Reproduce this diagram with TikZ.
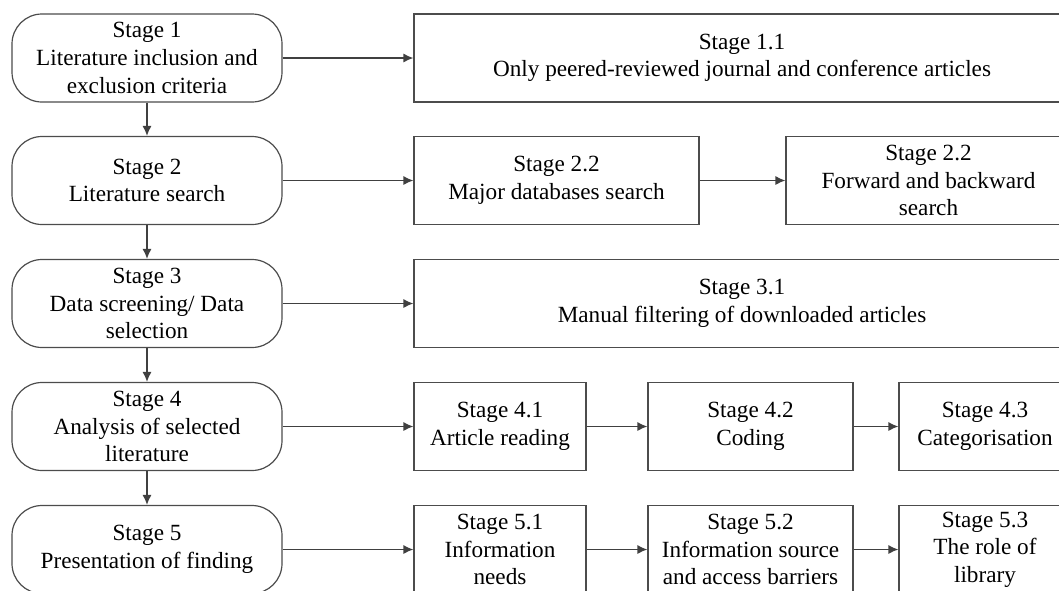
\documentclass[tikz,border=0pt]{standalone}
\usepackage{fontspec}
\setmainfont{Liberation Serif}
\usetikzlibrary{arrows.meta}
\tikzset{
    stage/.style={draw=black!70, line width=0.6pt, rounded corners=15pt, minimum width=135pt, minimum height=44pt, align=center, inner sep=0pt},
    substage/.style={draw=black!70, line width=0.6pt, minimum height=44pt, align=center, inner sep=0pt},
    flow/.style={draw=black!75, line width=0.6pt, -{Latex[length=5pt,width=4.5pt]}},
}

\begin{document}
\begin{tikzpicture}[x=0.5pt, y=-0.5pt, font=\fontsize{11.6}{13.8}\selectfont]
        \useasboundingbox (0,0) rectangle (1059,590);
        \clip (0,0) rectangle (1059,590);

    % main stages
    \node[stage] (st1) at (147,58) {Stage 1\\Literature inclusion and\\exclusion criteria};
    \node[stage] (st2) at (147,180.5) {Stage 2\\Literature search};
    \node[stage] (st3) at (147,303.5) {Stage 3\\Data screening/ Data\\selection};
    \node[stage] (st4) at (147,426.5) {Stage 4\\Analysis of selected\\literature};
    \node[stage] (st5) at (147,549.5) {Stage 5\\Presentation of finding};

    % sub stages
    \node[substage, minimum width=328pt] (st11) at (742,58) {Stage 1.1\\Only peered-reviewed journal and conference articles};
    \node[substage, minimum width=142.5pt] (st21) at (556.5,180.5) {Stage 2.2\\Major databases search};
    \node[substage, minimum width=142.5pt] (st22) at (928.5,180.5) {Stage 2.2\\Forward and backward\\search};
    \node[substage, minimum width=328pt] (st31) at (742,303.5) {Stage 3.1\\Manual filtering of downloaded articles};
    \node[substage, minimum width=86pt] (st41) at (500,426.5) {Stage 4.1\\Article reading};
    \node[substage, minimum width=102.5pt] (st42) at (750.5,426.5) {Stage 4.2\\Coding};
    \node[substage, minimum width=86pt] (st43) at (985,426.5) {Stage 4.3\\Categorisation};
    \node[substage, minimum width=86pt] (st51) at (500,549.5) {Stage 5.1\\Information\\needs};
    \node[substage, minimum width=102.5pt] (st52) at (750.5,549.5) {Stage 5.2\\Information source\\and access barriers};
    \node[substage, minimum width=86pt] (st53) at (985,549.5) {Stage 5.3\\The role of\\library};

    % down the main column
    \draw[flow] (st1) -- (st2);
    \draw[flow] (st2) -- (st3);
    \draw[flow] (st3) -- (st4);
    \draw[flow] (st4) -- (st5);

    % across the rows
    \draw[flow] (st1) -- (st11);
    \draw[flow] (st2) -- (st21);
    \draw[flow] (st21) -- (st22);
    \draw[flow] (st3) -- (st31);
    \draw[flow] (st4) -- (st41);
    \draw[flow] (st41) -- (st42);
    \draw[flow] (st42) -- (st43);
    \draw[flow] (st5) -- (st51);
    \draw[flow] (st51) -- (st52);
    \draw[flow] (st52) -- (st53);
\end{tikzpicture}
\end{document}
